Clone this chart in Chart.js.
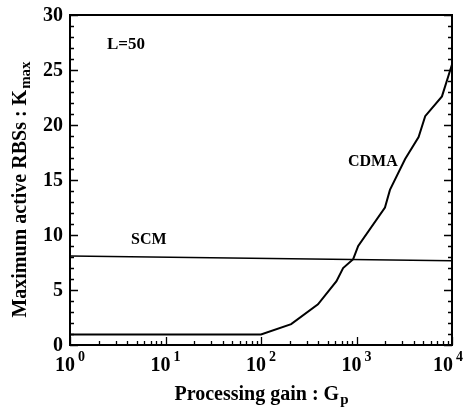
<!DOCTYPE html>
<html>
<head>
<meta charset="utf-8">
<script src="https://cdn.jsdelivr.net/npm/chart.js@4/dist/chart.umd.min.js"></script>
<style>
  html, body { margin: 0; padding: 0; background: #fff; }
  #wrap { width: 464px; height: 409px; }
</style>
</head>
<body>
<div id="wrap"><canvas id="kmaxChart" width="464" height="409"></canvas></div>
<script>
// values
var cdmaGain = [1, 100, 207, 395, 617, 724, 923, 1042, 1986, 2240, 3230, 4470, 5240, 7850, 10000];
var cdmaKmax = [0.95, 0.95, 1.9, 3.7, 5.8, 7.0, 7.8, 9.0, 12.5, 14.1, 16.9, 18.9, 20.8, 22.6, 25.5];
var scmGain = [1, 10000];
var scmKmax = [8.1, 7.65];
var xTickPowers = [0, 1, 2, 3, 4];
var yTickLabels = [0, 5, 10, 15, 20, 25, 30];

var SERIF = '"Liberation Serif", "Times New Roman", serif';

function toPoints(xs, ys) {
    var pts = [];
    for (var i = 0; i < xs.length; i++) {
        pts.push({ x: xs[i], y: ys[i] });
    }
    return pts;
}

var axesPlugin = {
    id: 'axesPlugin',
    afterDraw: function (chart) {
        var ctx = chart.ctx;
        var a = chart.chartArea;
        var xs = chart.scales.x;
        var ys = chart.scales.y;
        ctx.save();
        ctx.strokeStyle = '#000';
        ctx.fillStyle = '#000';

        // frame
        ctx.lineWidth = 2;
        ctx.strokeRect(a.left, a.top, a.right - a.left, a.bottom - a.top);

        // y ticks, inward, left and right
        ctx.lineWidth = 1.3;
        ctx.beginPath();
        for (var v = 0; v <= 30; v++) {
            var py = Math.round(ys.getPixelForValue(v)) + 0.5;
            var len = (v % 5 === 0) ? 8 : 4;
            ctx.moveTo(a.left, py); ctx.lineTo(a.left + len, py);
            ctx.moveTo(a.right, py); ctx.lineTo(a.right - len, py);
        }
        // x ticks, inward at bottom
        for (var p = 0; p < 4; p++) {
            for (var m = 1; m <= 10; m++) {
                var px = Math.round(xs.getPixelForValue(m * Math.pow(10, p))) + 0.5;
                var l = (m === 1 || m === 10) ? 8 : 4;
                ctx.moveTo(px, a.bottom); ctx.lineTo(px, a.bottom - l);
            }
        }
        ctx.stroke();

        // y tick labels
        ctx.font = 'bold 20px ' + SERIF;
        ctx.textAlign = 'right';
        ctx.textBaseline = 'middle';
        for (var i = 0; i < yTickLabels.length; i++) {
            ctx.fillText(String(yTickLabels[i]), a.left - 7, ys.getPixelForValue(yTickLabels[i]) + 1);
        }

        // x tick labels 10^n
        ctx.textBaseline = 'alphabetic';
        ctx.textAlign = 'left';
        for (var j = 0; j < xTickPowers.length; j++) {
            var cx = xs.getPixelForValue(Math.pow(10, xTickPowers[j]));
            ctx.font = 'bold 20px ' + SERIF;
            var w1 = ctx.measureText('10').width;
            var x0 = cx - 5 - w1 / 2;
            if (j === xTickPowers.length - 1) x0 -= 4;
            ctx.fillText('10', x0, 371);
            ctx.font = 'bold 14px ' + SERIF;
            ctx.fillText(String(xTickPowers[j]), x0 + w1 + 3, 361);
        }

        // x title
        ctx.font = 'bold 20px ' + SERIF;
        var t1 = 'Processing gain : G';
        var tw = ctx.measureText(t1).width;
        ctx.font = 'bold 15px ' + SERIF;
        var sw = ctx.measureText('p').width;
        var tx = (a.left + a.right) / 2 - (tw + sw) / 2;
        ctx.font = 'bold 20px ' + SERIF;
        ctx.fillText(t1, tx, 400);
        ctx.font = 'bold 15px ' + SERIF;
        ctx.fillText('p', tx + tw + 1, 404);

        // y title, rotated
        ctx.translate(26, 190);
        ctx.rotate(-Math.PI / 2);
        ctx.font = 'bold 20px ' + SERIF;
        var y1 = 'Maximum active RBSs : K';
        var yw = ctx.measureText(y1).width;
        ctx.font = 'bold 15px ' + SERIF;
        var yw2 = ctx.measureText('max').width;
        var ty = -(yw + yw2) / 2;
        ctx.font = 'bold 20px ' + SERIF;
        ctx.fillText(y1, ty, 0);
        ctx.font = 'bold 15px ' + SERIF;
        ctx.fillText('max', ty + yw + 1, 4);
        ctx.restore();

        // annotations inside the plot
        ctx.save();
        ctx.fillStyle = '#000';
        ctx.textAlign = 'left';
        ctx.textBaseline = 'alphabetic';
        ctx.font = 'bold 17px ' + SERIF;
        ctx.fillText('L=50', 107, 49);
        ctx.font = 'bold 16px ' + SERIF;
        ctx.fillText('SCM', 131, 244);
        ctx.fillText('CDMA', 348, 166);
        ctx.restore();
    }
};

function drawChart() {
    var ctx = document.getElementById('kmaxChart').getContext('2d');
    var kmaxChart = new Chart(ctx, {
        type: 'scatter',
        data: {
            datasets: [{
                label: 'CDMA',
                data: toPoints(cdmaGain, cdmaKmax),
                showLine: true,
                borderColor: '#000',
                borderWidth: 2,
                pointRadius: 0,
                tension: 0
            }, {
                label: 'SCM',
                data: toPoints(scmGain, scmKmax),
                showLine: true,
                borderColor: '#000',
                borderWidth: 1.5,
                pointRadius: 0
            }]
        },
        options: {
            responsive: false,
            animation: false,
            layout: { padding: { left: 70, right: 12, top: 15, bottom: 64 } },
            plugins: {
                legend: { display: false },
                tooltip: { enabled: false }
            },
            scales: {
                x: { type: 'logarithmic', min: 1, max: 10000, display: false },
                y: { type: 'linear', min: 0, max: 30, display: false }
            }
        },
        plugins: [axesPlugin]
    });
}

drawChart();
</script>
</body>
</html>
